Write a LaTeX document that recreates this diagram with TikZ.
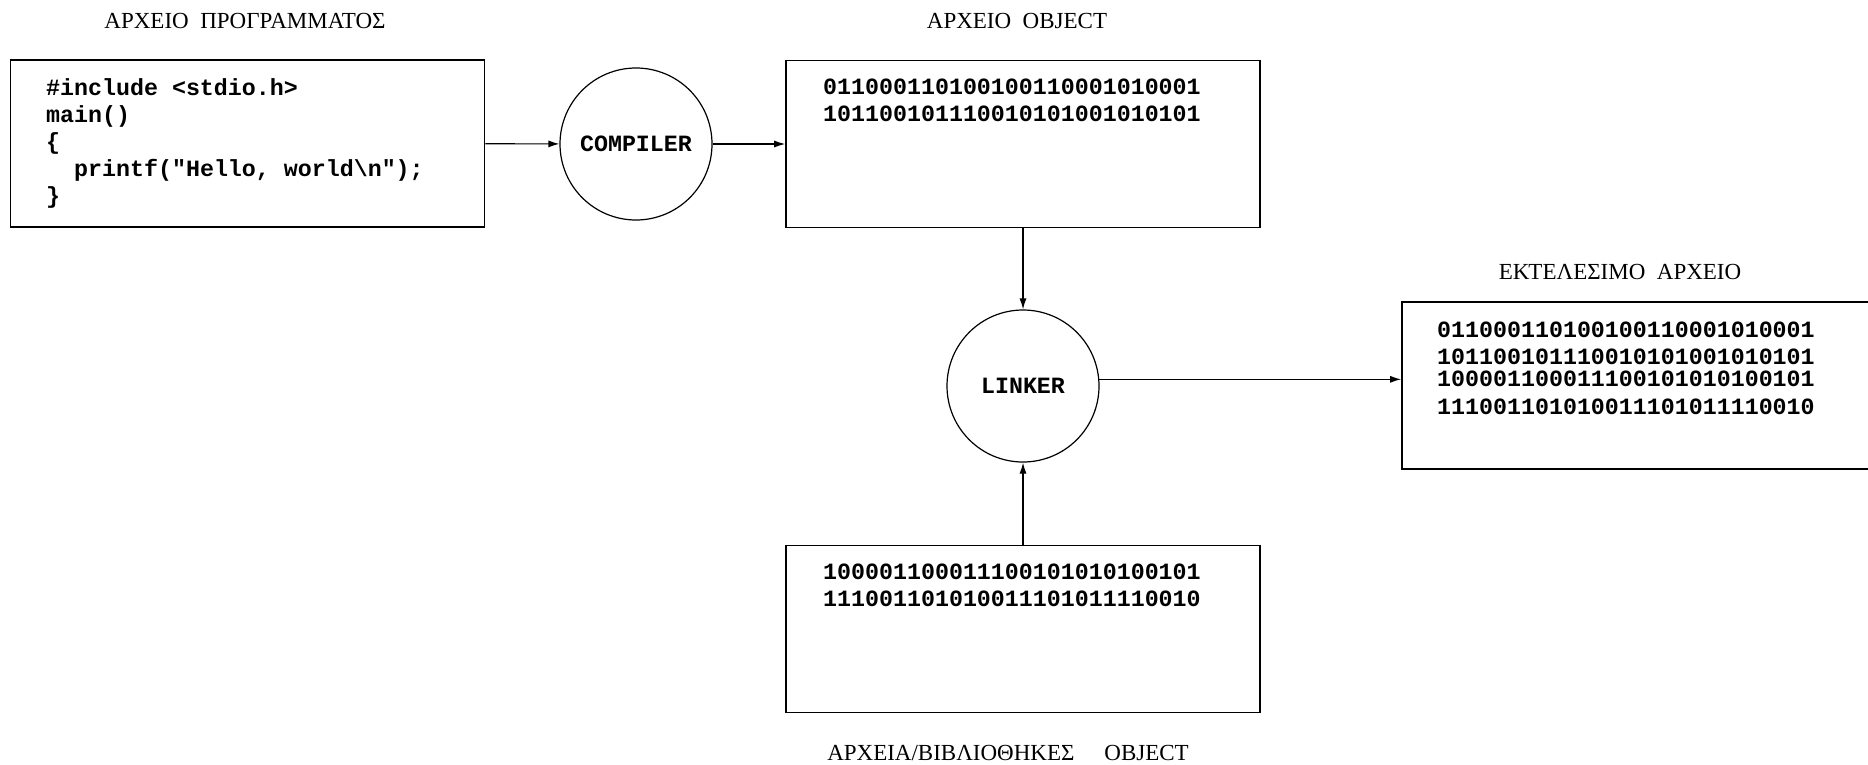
\documentclass[tikz,border=0pt]{standalone}
\usepackage{fontspec}
\setmainfont{Liberation Serif}
\setmonofont{Liberation Mono}
\usetikzlibrary{arrows.meta}

\newcommand{\codefont}{\fontsize{23.3}{27}\selectfont\ttfamily\bfseries}
\newcommand{\titlefont}{\fontsize{23}{27}\selectfont\rmfamily}
\newcommand{\titlegap}{\hspace{0.5em}}

\tikzset{
  filebox/.style={draw, line width=1.6pt, minimum width=474pt, minimum height=167pt, inner sep=0pt},
  tool/.style={draw, circle, line width=1.2pt, minimum size=152pt, inner sep=0pt, font=\codefont},
  bits/.style={anchor=base west, inner sep=0pt, font=\codefont},
  caption/.style={inner sep=0pt, font=\titlefont},
  flow/.style={line width=1.2pt, -{Latex[length=11pt,width=7pt]}}
}

\begin{document}
\begin{tikzpicture}[x=1pt, y=-1pt]
  \useasboundingbox (0,0) rectangle (1868,764);

  %%%%% FILES %%%%%
  \node[filebox] (prog) at (247.5,143.5) {};
  \node[filebox] (obj) at (1023,144) {};
  \node[filebox] (lib) at (1023,629) {};
  \node[filebox] (exec) at (1639,385.5) {};

  \node[caption] (progtitle) at (245,21) {ΑΡΧΕΙΟ\titlegap ΠΡΟΓΡΑΜΜΑΤΟΣ};
  \node[caption] (objtitle) at (1017,21) {ΑΡΧΕΙΟ\titlegap OBJECT};
  \node[caption] (exectitle) at (1620,272) {ΕΚΤΕΛΕΣΙΜΟ\titlegap ΑΡΧΕΙΟ};
  \node[caption] (libtitle) at (1008,753) {ΑΡΧΕΙΑ/ΒΙΒΛΙΟΘΗΚΕΣ\hspace{1.3em}OBJECT};

  %%%%% TOOLS %%%%%
  \node[tool] (compiler) at (636,144) {COMPILER};
  \node[tool] (linker) at (1023,386) {LINKER};

  %%%%% CONTENTS %%%%%
  \node[bits] (src1) at (46,95) {\#include <stdio.h>};
  \node[bits] (src2) at (46,122) {main()};
  \node[bits] (src3) at (46,149) {\{};
  \node[bits] (src4) at (74,176) {printf("Hello, world\textbackslash n");};
  \node[bits] (src5) at (46,203) {\}};

  \node[bits] (obj1) at (823,94.5) {011000110100100110001010001};
  \node[bits] (obj2) at (823,121.5) {101100101110010101001010101};

  \node[bits] (lib1) at (823,579.5) {100001100011100101010100101};
  \node[bits] (lib2) at (823,606.5) {111001101010011101011110010};

  \node[bits] (exec1) at (1437,337.5) {011000110100100110001010001};
  \node[bits] (exec2) at (1437,364.5) {101100101110010101001010101};
  \node[bits] (exec3) at (1437,386.5) {100001100011100101010100101};
  \node[bits] (exec4) at (1437,414.5) {111001101010011101011110010};

  %%%%% FLOW %%%%%
  \draw[flow] (prog) -- (compiler);
  \draw[flow] (compiler) -- (obj);
  \draw[flow] (obj) -- (linker);
  \draw[flow] (lib) -- (linker);
  \draw[flow] (linker.5) -- (linker.5 -| exec.west);
\end{tikzpicture}
\end{document}
